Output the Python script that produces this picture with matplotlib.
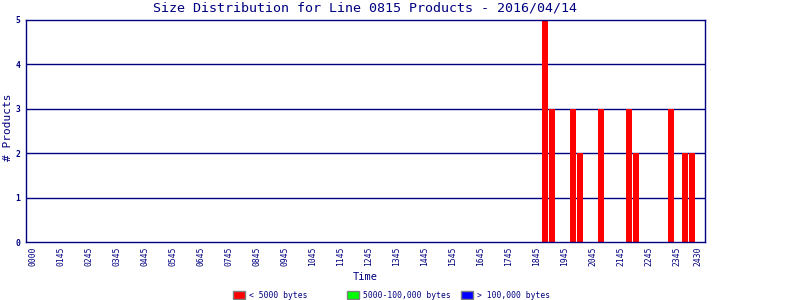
import numpy as np
import matplotlib
matplotlib.use("Agg")
import matplotlib.pyplot as plt
from matplotlib.patches import Rectangle
from matplotlib.transforms import blended_transform_factory, ScaledTranslation

# 15 minute slots on the x axis
n_slots = 97
busy_slots = [74, 75, 78, 79, 82, 86, 87, 92, 94, 95]
small_counts = [5, 3, 3, 2, 3, 3, 2, 3, 2, 2]   # < 5000 bytes
medium_counts = [0] * len(busy_slots)          # 5000-100,000 bytes
large_counts = [0] * len(busy_slots)           # > 100,000 bytes

tick_slots = list(range(0, 93, 4)) + [95]
tick_labels = ["0000"] + ["%02d45" % h for h in range(1, 24)] + ["2430"]

series_names = ["< 5000 bytes", "5000-100,000 bytes", "> 100,000 bytes"]
series_colors = ["#ff0000", "#00ff00", "#0000ff"]

navy = "#000080"
mono = "DejaVu Sans Mono"

small = np.zeros(n_slots)
medium = np.zeros(n_slots)
large = np.zeros(n_slots)
small[busy_slots] = small_counts
medium[busy_slots] = medium_counts
large[busy_slots] = large_counts
x = np.arange(n_slots)

fig = plt.figure(figsize=(8, 3), dpi=100)
ax = fig.add_axes([26 / 800, 1 - 242 / 300, 679 / 800, 222 / 300])

ax.bar(x, small, width=0.82, color=series_colors[0], linewidth=0)
ax.bar(x, medium, width=0.82, bottom=small, color=series_colors[1], linewidth=0)
ax.bar(x, large, width=0.82, bottom=small + medium, color=series_colors[2], linewidth=0)

ax.set_xlim(-0.14, 96.86)
ax.set_ylim(0, 5)
for y in range(1, 5):
    ax.axhline(y, color=navy, lw=1, zorder=0.5)

ax.set_yticks(range(6))
ax.set_yticklabels([str(v) for v in range(6)])
ax.tick_params(axis="y", length=0, labelcolor=navy, labelsize=5.8, pad=4)
for lbl in ax.get_yticklabels():
    lbl.set_fontfamily(mono)
    lbl.set_fontweight("bold")

# vertical time labels under the axis, a little right of their slot
ax.set_xticks([])
trans = blended_transform_factory(ax.transData, ax.transAxes) + \
    ScaledTranslation(6 / 100, -5 / 100, fig.dpi_scale_trans)
for s, t in zip(tick_slots, tick_labels):
    ax.text(s, 0, t, rotation=90, ha="center", va="top", transform=trans,
            fontfamily=mono, fontsize=5.8, color=navy, clip_on=False)

for sp in ax.spines.values():
    sp.set_color(navy)
    sp.set_linewidth(1)

fig.text(365 / 800, 1 - 8 / 300, "Size Distribution for Line 0815 Products - 2016/04/14",
         ha="center", va="center", fontfamily=mono, fontsize=9.6, color=navy)
fig.text(8 / 800, 1 - 127 / 300, "# Products", rotation=90, ha="center", va="center",
         fontfamily=mono, fontsize=8, color=navy)
fig.text(365 / 800, 1 - 277 / 300, "Time", ha="center", va="center",
         fontfamily=mono, fontsize=7.5, color=navy)

# legend along the bottom, fixed column positions
for i, (name, col) in enumerate(zip(series_names, series_colors)):
    x0 = 233 + 114 * i
    fig.add_artist(Rectangle((x0 / 800, 1 - 299 / 300), 12 / 800, 8 / 300,
                             transform=fig.transFigure, facecolor=col,
                             edgecolor="#808080", linewidth=1))
    fig.text((x0 + 16) / 800, 1 - 295 / 300, name, ha="left", va="center",
             fontfamily=mono, fontsize=5.8, color=navy)

fig.savefig("out.png", dpi=100)
